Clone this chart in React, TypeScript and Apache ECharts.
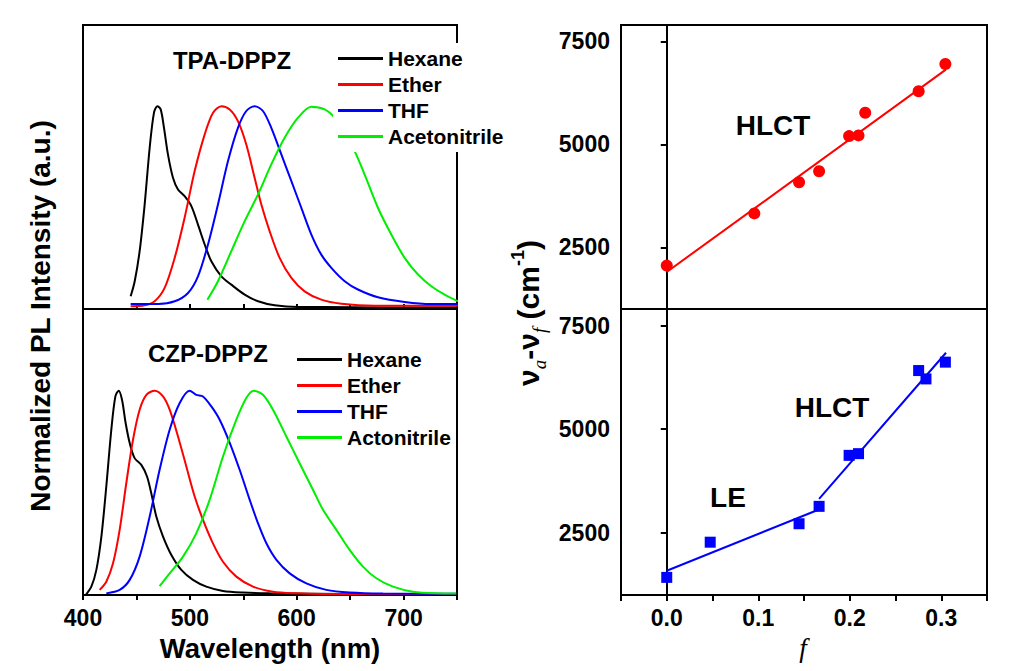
import React, { useEffect, useRef } from 'react';
import * as echarts from 'echarts';

// ---------- data ----------
const waveLabels = [400, 500, 600, 700];
const solventsTop = ['Hexane', 'Ether', 'THF', 'Acetonitrile'];
const solventsBottom = ['Hexane', 'Ether', 'THF', 'Actonitrile'];
const solventColors = ['#000000', '#ff0000', '#0000ff', '#00ee00'];

// TPA-DPPZ spectra [wavelength nm, normalized intensity]
const tpaHexane = [
  [444.6, 0.063], [448.4, 0.137], [453, 0.285], [457.7, 0.515], [462.4, 0.795], [466.4, 0.967],
  [469.6, 1.0], [472.7, 0.984], [475.8, 0.893], [479.5, 0.762], [484.2, 0.647], [488.9, 0.589],
  [495.1, 0.556], [501.4, 0.507], [507.6, 0.416], [513.9, 0.318], [520.1, 0.235], [529.5, 0.161],
  [538.8, 0.12], [551.3, 0.071], [563.8, 0.038], [579.4, 0.018], [601.2, 0.01], [626, 0.01],
  [680, 0.008], [750, 0.008],
];
const tpaEther = [
  [444.6, 0.013], [457.7, 0.018], [467, 0.038], [476.4, 0.104], [485.8, 0.252], [495.1, 0.45],
  [504.5, 0.68], [513.9, 0.861], [521.7, 0.967], [529.5, 1.0], [537.3, 0.984], [545, 0.926],
  [552.8, 0.811], [560.6, 0.647], [566.9, 0.515], [574.7, 0.383], [584, 0.252], [595, 0.153],
  [607.4, 0.087], [623, 0.046], [641.7, 0.026], [673, 0.016], [751, 0.016],
];
const tpaTHF = [
  [444.6, 0.025], [470.2, 0.025], [485.8, 0.038], [498.3, 0.079], [507.6, 0.161], [517, 0.318],
  [526.3, 0.515], [535.7, 0.729], [545, 0.893], [552.8, 0.976], [560.6, 1.0], [568.4, 0.976],
  [576.2, 0.893], [585.6, 0.762], [595, 0.63], [604.3, 0.499], [613.7, 0.367], [623, 0.268],
  [632.4, 0.203], [644.9, 0.137], [657.3, 0.096], [676, 0.058], [701, 0.035], [726, 0.025], [751, 0.025],
];
const tpaAcetonitrile = [
  [516.4, 0.046], [526.3, 0.137], [538.8, 0.285], [551.3, 0.433], [563.8, 0.565], [576.2, 0.713],
  [588.7, 0.844], [601.2, 0.943], [613.7, 0.997], [626.1, 0.984], [635.5, 0.943], [645, 0.87],
  [654.2, 0.778], [663.6, 0.663], [676, 0.499], [688.5, 0.367], [701, 0.252], [713.5, 0.17],
  [726, 0.112], [738.4, 0.071], [751, 0.038],
];

// CZP-DPPZ spectra
const czpHexane = [
  [402.5, 0.0], [407.8, 0.041], [412.5, 0.123], [417.2, 0.286], [421.8, 0.531], [426.5, 0.809],
  [430.3, 0.972], [433.4, 1.0], [436.5, 0.956], [439.9, 0.842], [443.7, 0.744], [448.3, 0.67],
  [454.6, 0.637], [459.9, 0.58], [463.9, 0.498], [468.6, 0.384], [474.9, 0.286], [482.7, 0.196],
  [492, 0.123], [502.9, 0.074], [515.4, 0.041], [531, 0.02], [549.7, 0.012], [574.7, 0.008],
  [650, 0.005], [750, 0.005],
];
const czpEther = [
  [415.6, 0.025], [421.8, 0.065], [428.1, 0.155], [434.3, 0.319], [440.5, 0.547], [446.8, 0.76],
  [453, 0.907], [459.3, 0.98], [467.1, 1.0], [474.9, 0.972], [481.1, 0.907], [488.9, 0.776],
  [496.7, 0.629], [504.5, 0.482], [512.3, 0.368], [521.6, 0.253], [531, 0.163], [543.5, 0.09],
  [559.1, 0.041], [577.8, 0.016], [599.6, 0.008], [624.6, 0.005], [749, 0.005],
];
const czpTHF = [
  [421.8, 0.008], [434.3, 0.025], [443.7, 0.074], [453, 0.188], [462.4, 0.384], [471.7, 0.613],
  [481.1, 0.809], [490.5, 0.94], [499.8, 1.0], [506, 0.98], [512.3, 0.972], [520.1, 0.923],
  [527.9, 0.858], [537.4, 0.744], [546.6, 0.613], [556, 0.466], [563.8, 0.351], [571.6, 0.253],
  [581, 0.172], [593.4, 0.106], [609, 0.057], [627.7, 0.025], [649.5, 0.012], [680.7, 0.007], [749, 0.006],
];
const czpActonitrile = [
  [471.7, 0.044], [481.1, 0.106], [493.6, 0.188], [506, 0.302], [518.5, 0.466], [531, 0.678],
  [543.5, 0.858], [552.8, 0.964], [559.7, 1.0], [568.4, 0.98], [577.8, 0.907], [590.3, 0.776],
  [602.7, 0.645], [615.2, 0.515], [624.6, 0.417], [637.1, 0.319], [649.5, 0.221], [662, 0.139],
  [674.5, 0.082], [690.1, 0.041], [708.8, 0.016], [730.6, 0.008], [749.3, 0.007],
];

// Stokes shift vs orientation polarizability
const fLabels = [0.0, 0.1, 0.2, 0.3];
const shiftTicks = [2500, 5000, 7500];
const tpaF = [0.0, 0.0957, 0.1446, 0.1665, 0.1993, 0.2096, 0.2169, 0.2753, 0.3045];
const tpaShift = [2055, 3323, 4080, 4347, 5201, 5218, 5767, 6290, 6953];
const tpaFit = [[0.0, 1900], [0.305, 6815]];
const czpF = [0.0, 0.0475, 0.1446, 0.1665, 0.1993, 0.2096, 0.2753, 0.2833, 0.3045];
const czpShift = [1425, 2274, 2719, 3139, 4369, 4410, 6415, 6213, 6618];
const czpFitLE = [[0.0, 1585], [0.1657, 3058]];
const czpFitHLCT = [[0.1665, 3318], [0.3052, 6845]];

// ---------- styling ----------
const SANS = "'Liberation Sans', Arial, sans-serif";
const SERIF = "'Liberation Serif', 'Times New Roman', serif";

const zip = (xs: number[], ys: number[]) => xs.map((x, i) => [x, ys[i]]);

export default function App() {
  const ref = useRef<HTMLDivElement>(null);

  useEffect(() => {
    if (!ref.current) return;
    const chart = echarts.init(ref.current, undefined, { renderer: 'svg' });

    const frame = { show: true, borderColor: '#000', borderWidth: 2, backgroundColor: 'transparent' };
    const grids = [
      { left: 83, top: 25, width: 374, height: 284, ...frame },
      { left: 83, top: 309, width: 374, height: 286, ...frame },
      { left: 621, top: 25, width: 366, height: 284, ...frame },
      { left: 621, top: 309, width: 366, height: 286, ...frame },
    ];

    const labelStyle = { color: '#000', fontFamily: SANS, fontWeight: 'bold' as const, fontSize: 23 };

    const waveAxis = (gridIndex: number, showLabels: boolean) => ({
      type: 'value', gridIndex, min: 400, max: 750, interval: 50,
      axisLine: { show: true, lineStyle: { color: '#000', width: 2 } },
      axisTick: { show: true, inside: !showLabels, length: 5, lineStyle: { color: '#000', width: 2 } },
      axisLabel: {
        show: showLabels, margin: 11, ...labelStyle,
        formatter: (v: number) => (waveLabels.includes(v) ? String(v) : ''),
      },
      splitLine: { show: false },
    });
    const fAxis = (gridIndex: number, showLabels: boolean) => ({
      type: 'value', gridIndex, min: -0.05, max: 0.35, interval: 0.05,
      axisLine: { show: true, lineStyle: { color: '#000', width: 2 } },
      axisTick: { show: showLabels, length: 6, lineStyle: { color: '#000', width: 2 } },
      axisLabel: {
        show: showLabels, margin: 11, ...labelStyle,
        formatter: (v: number) => {
          const hit = fLabels.find((t) => Math.abs(t - v) < 1e-6);
          return hit === undefined ? '' : hit.toFixed(1);
        },
      },
      splitLine: { show: false },
    });
    const intensityAxis = (gridIndex: number) => ({
      type: 'value', gridIndex, min: 0, max: 1.4,
      axisLine: { show: true, lineStyle: { color: '#000', width: 2 } },
      axisTick: { show: false }, axisLabel: { show: false }, splitLine: { show: false },
    });
    const shiftAxis = (gridIndex: number) => ({
      type: 'value', gridIndex, min: 1000, max: 7900,
      axisLine: { show: true, lineStyle: { color: '#000', width: 2 } },
      axisTick: { show: true, length: 6, customValues: shiftTicks, lineStyle: { color: '#000', width: 2 } },
      axisLabel: {
        show: true, margin: 11, customValues: shiftTicks, ...labelStyle,
        formatter: (v: number) => String(v),
      },
      splitLine: { show: false },
    });

    const spectrum = (name: string, data: number[][], color: string, idx: number) => ({
      name, type: 'line', data, xAxisIndex: idx, yAxisIndex: idx,
      showSymbol: false, smooth: 0.3, color,
      lineStyle: { color, width: 2 }, silent: true, z: 2,
    });

    const topSpectra = [tpaHexane, tpaEther, tpaTHF, tpaAcetonitrile];
    const bottomSpectra = [czpHexane, czpEther, czpTHF, czpActonitrile];

    const legendText = { color: '#000', fontFamily: SANS, fontWeight: 'bold' as const, fontSize: 21, lineHeight: 21 };

    const option: any = {
      animation: false,
      backgroundColor: '#fff',
      grid: grids,
      xAxis: [waveAxis(0, false), waveAxis(1, true), fAxis(2, false), fAxis(3, true)],
      yAxis: [intensityAxis(0), intensityAxis(1), shiftAxis(2), shiftAxis(3)],
      legend: [
        {
          data: solventsTop.map((n) => ({ name: n, icon: 'rect' })),
          orient: 'vertical', left: 333, top: 43, padding: [5, 4, 5, 5],
          itemWidth: 45, itemHeight: 3, itemGap: 5, selectedMode: false,
          backgroundColor: '#fff', textStyle: legendText, z: 10,
        },
        {
          data: solventsBottom.map((n) => ({ name: n, icon: 'rect' })),
          orient: 'vertical', left: 297, top: 349, padding: 0,
          itemWidth: 45, itemHeight: 3, itemGap: 5, selectedMode: false,
          textStyle: legendText, z: 10,
        },
      ],
      series: [
        ...solventsTop.map((n, i) => spectrum(n, topSpectra[i], solventColors[i], 0)),
        ...solventsBottom.map((n, i) => spectrum(n, bottomSpectra[i], solventColors[i], 1)),
        {
          name: 'TPA-DPPZ fit', type: 'line', data: tpaFit, xAxisIndex: 2, yAxisIndex: 2,
          showSymbol: false, lineStyle: { color: '#ff0000', width: 2 }, color: '#ff0000', silent: true,
        },
        {
          name: 'TPA-DPPZ', type: 'scatter', data: zip(tpaF, tpaShift), xAxisIndex: 2, yAxisIndex: 2,
          symbol: 'circle', symbolSize: 12, itemStyle: { color: '#ff0000', opacity: 1 }, silent: true, z: 3,
        },
        {
          name: 'CZP-DPPZ LE fit', type: 'line', data: czpFitLE, xAxisIndex: 3, yAxisIndex: 3,
          showSymbol: false, lineStyle: { color: '#0000ff', width: 2 }, color: '#0000ff', silent: true,
        },
        {
          name: 'CZP-DPPZ HLCT fit', type: 'line', data: czpFitHLCT, xAxisIndex: 3, yAxisIndex: 3,
          showSymbol: false, lineStyle: { color: '#0000ff', width: 2 }, color: '#0000ff', silent: true,
        },
        {
          name: 'CZP-DPPZ', type: 'scatter', data: zip(czpF, czpShift), xAxisIndex: 3, yAxisIndex: 3,
          symbol: 'rect', symbolSize: 11, itemStyle: { color: '#0000ff', opacity: 1 }, silent: true, z: 3,
        },
      ],
      graphic: [
        {
          type: 'text', x: 232, y: 60, z: 20,
          style: { text: 'TPA-DPPZ', font: `bold 24px ${SANS}`, fill: '#000', align: 'center', verticalAlign: 'middle' },
        },
        {
          type: 'text', x: 208, y: 353, z: 20,
          style: { text: 'CZP-DPPZ', font: `bold 24px ${SANS}`, fill: '#000', align: 'center', verticalAlign: 'middle' },
        },
        {
          type: 'text', x: 773, y: 125, z: 20,
          style: { text: 'HLCT', font: `bold 28px ${SANS}`, fill: '#000', align: 'center', verticalAlign: 'middle' },
        },
        {
          type: 'text', x: 832, y: 407, z: 20,
          style: { text: 'HLCT', font: `bold 28px ${SANS}`, fill: '#000', align: 'center', verticalAlign: 'middle' },
        },
        {
          type: 'text', x: 728, y: 497, z: 20,
          style: { text: 'LE', font: `bold 28px ${SANS}`, fill: '#000', align: 'center', verticalAlign: 'middle' },
        },
        {
          type: 'text', x: 270, y: 648, z: 20,
          style: { text: 'Wavelength (nm)', font: `bold 27.5px ${SANS}`, fill: '#000', align: 'center', verticalAlign: 'middle' },
        },
        {
          type: 'text', x: 40, y: 316, rotation: Math.PI / 2, z: 20,
          style: { text: 'Normalized PL Intensity (a.u.)', font: `bold 28px ${SANS}`, fill: '#000', align: 'center', verticalAlign: 'middle' },
        },
        {
          type: 'text', x: 803, y: 648, z: 20,
          style: { text: 'f', font: `italic 27px ${SERIF}`, fill: '#000', align: 'center', verticalAlign: 'middle' },
        },
        {
          type: 'text', x: 528, y: 313, rotation: Math.PI / 2, z: 20,
          style: {
            text: '{b|ν}{s|a}{b|-ν}{s|f}{b| (cm}{p|-1}{b|)}',
            align: 'center', verticalAlign: 'middle', fill: '#000',
            rich: {
              b: { fontFamily: SANS, fontWeight: 'bold', fontSize: 30, fill: '#000', lineHeight: 34 },
              s: { fontFamily: SERIF, fontStyle: 'italic', fontSize: 19, fill: '#000', verticalAlign: 'bottom', lineHeight: 34, padding: [0, 0, -4, 0] },
              p: { fontFamily: SANS, fontWeight: 'bold', fontSize: 18, fill: '#000', verticalAlign: 'top', lineHeight: 34, padding: [-2, 0, 0, 0] },
            },
          },
        },
      ],
    };

    chart.setOption(option);
    return () => chart.dispose();
  }, []);

  return <div ref={ref} style={{ position: 'absolute', left: 0, top: 0, width: 1034, height: 671 }} />;
}
